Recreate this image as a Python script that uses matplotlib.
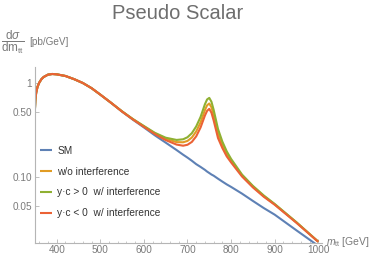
import matplotlib
matplotlib.use('Agg')
from matplotlib import pyplot as plt
from matplotlib.ticker import FixedLocator, NullLocator, NullFormatter

# invariant mass grid [GeV]
mass = [350, 351, 353, 356, 360, 365, 370, 380, 390, 400, 420, 440, 460, 480,
        500, 525, 550, 575, 600, 625, 650, 675, 690, 700, 710, 720, 730, 740,
        745, 750, 755, 760, 770, 780, 790, 800, 825, 850, 875, 900, 950, 1000]

# d sigma / d m_tt [pb/GeV]
sm = [0.52, 0.66, 0.80, 0.92, 1.02, 1.11, 1.17, 1.24, 1.26, 1.25, 1.20, 1.11, 1.01, 0.89,
      0.76, 0.62, 0.50, 0.41, 0.34, 0.28, 0.234, 0.195, 0.174, 0.162, 0.150, 0.138, 0.129, 0.120,
      0.115, 0.111, 0.107, 0.104, 0.0966, 0.090, 0.084, 0.079, 0.067, 0.056, 0.047, 0.040, 0.0272, 0.0186]

no_interf = [0.52, 0.66, 0.80, 0.92, 1.02, 1.11, 1.17, 1.24, 1.26, 1.25, 1.20, 1.11, 1.01, 0.89,
             0.76, 0.62, 0.503, 0.415, 0.349, 0.294, 0.257, 0.237, 0.236, 0.244, 0.265, 0.308, 0.384, 0.520,
             0.585, 0.611, 0.557, 0.464, 0.292, 0.220, 0.177, 0.150, 0.105, 0.080, 0.063, 0.0515, 0.0330, 0.0206]

interf_pos = [0.52, 0.66, 0.80, 0.92, 1.02, 1.11, 1.17, 1.24, 1.26, 1.25, 1.20, 1.11, 1.01, 0.89,
              0.76, 0.62, 0.504, 0.417, 0.352, 0.298, 0.264, 0.250, 0.254, 0.267, 0.295, 0.348, 0.439, 0.600,
              0.675, 0.701, 0.637, 0.524, 0.327, 0.240, 0.189, 0.157, 0.107, 0.081, 0.064, 0.052, 0.0332, 0.0206]

interf_neg = [0.52, 0.66, 0.80, 0.92, 1.02, 1.11, 1.17, 1.24, 1.26, 1.25, 1.20, 1.11, 1.01, 0.89,
              0.76, 0.62, 0.501, 0.413, 0.345, 0.289, 0.249, 0.223, 0.217, 0.222, 0.238, 0.273, 0.339, 0.455,
              0.510, 0.536, 0.487, 0.404, 0.262, 0.205, 0.167, 0.144, 0.102, 0.078, 0.062, 0.051, 0.0327, 0.0205]

labels = ['SM', 'w/o interference', 'y·c > 0  w/ interference', 'y·c < 0  w/ interference']
colors = ['#5E81B5', '#E19C24', '#8FB032', '#EB6235']

x_ticks = [400, 500, 600, 700, 800, 900, 1000]
y_ticks = [0.05, 0.10, 0.50, 1]
y_tick_labels = ['0.05', '0.10', '0.50', '1']

plt.rcParams['font.family'] = ['Liberation Sans', 'DejaVu Sans']
plt.rcParams['mathtext.fontset'] = 'custom'
plt.rcParams['mathtext.rm'] = 'Liberation Sans'
plt.rcParams['mathtext.it'] = 'Liberation Sans:italic'

gray = '#7a7a7a'
axis_gray = '#b5b5b5'

fig = plt.figure(figsize=(3.74, 2.62), dpi=100)
ax = fig.add_axes([0.0933, 0.0737, 0.767, 0.671])

series = [sm, no_interf, interf_pos, interf_neg]
for values, label, color in zip(series, labels, colors):
    ax.plot(mass, values, color=color, lw=1.5, label=label, solid_capstyle='butt')

ax.set_yscale('log')
ax.set_xlim(350, 1008)
ax.set_ylim(0.0201, 1.5)

for side in ['top', 'right']:
    ax.spines[side].set_visible(False)
for side in ['left', 'bottom']:
    ax.spines[side].set_color(axis_gray)
    ax.spines[side].set_linewidth(0.8)

ax.xaxis.set_major_locator(FixedLocator(x_ticks))
ax.xaxis.set_minor_locator(FixedLocator(range(360, 1001, 20)))
ax.yaxis.set_major_locator(FixedLocator(y_ticks))
ax.yaxis.set_minor_locator(NullLocator())
ax.yaxis.set_minor_formatter(NullFormatter())
ax.set_yticklabels(y_tick_labels)

ax.tick_params(axis='both', which='major', direction='in', length=3, width=0.6,
               color=axis_gray, labelcolor=gray, labelsize=7.2, pad=2)
ax.tick_params(axis='x', which='minor', direction='in', length=1.8, width=0.5, color=axis_gray)

fig.text(0.475, 0.95, 'Pseudo Scalar', ha='center', va='center', fontsize=14.5, color='#6e6e6e')
fig.text(0.004, 0.84, r'$\dfrac{\mathrm{d}\sigma}{\mathrm{dm}_{\mathrm{tt}}}$', ha='left', va='center',
         fontsize=8.5, color=gray)
fig.text(0.077, 0.84, '[pb/GeV]', ha='left', va='center', fontsize=7.2, color=gray)
fig.text(0.871, 0.075, r'$m_{\mathrm{tt}}$ [GeV]', ha='left', va='center', fontsize=7.5, color=gray)

leg = ax.legend(loc='upper left', bbox_to_anchor=(40 / 374, 1 - 146 / 262),
                bbox_transform=fig.transFigure, frameon=False, fontsize=7.3,
                handlelength=1.15, handletextpad=0.55, labelspacing=1.06,
                borderpad=0, borderaxespad=0)
for text in leg.get_texts():
    text.set_color('#333333')

fig.savefig('out.png', dpi=100)
